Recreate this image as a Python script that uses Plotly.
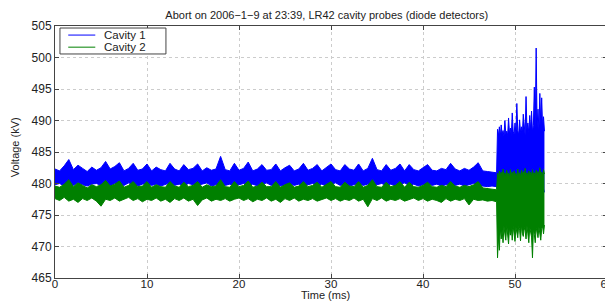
import numpy as np
import plotly.graph_objects as go

# ---- data (kV) ----
# steady part: samples every 0.5 ms from 0 to 48 ms
t_steady = np.round(np.arange(0, 48.01, 0.5), 2)
# burst part: samples every 0.1 ms from 48.1 to 53.3 ms
t_burst = np.round(np.arange(48.1, 53.31, 0.1), 2)

c1_hi_steady = [482.3, 482.0, 482.8, 483.8, 482.2, 482.9, 482.4, 481.9, 482.6, 482.1,
                482.5, 483.5, 482.3, 482.7, 483.3, 482.0, 482.4, 483.2, 482.1, 482.3,
                483.1, 482.0, 482.6, 482.2, 482.0, 483.2, 482.3, 482.0, 483.0, 482.2,
                482.4, 483.1, 482.0, 482.5, 482.1, 482.3, 484.3, 482.2, 482.0, 483.2,
                482.1, 482.4, 483.4, 482.0, 482.3, 483.0, 482.1, 482.2, 483.1, 482.0,
                482.5, 482.9, 482.0, 482.3, 483.2, 482.1, 482.4, 483.0, 482.0, 482.6,
                483.1, 482.2, 482.0, 483.0, 482.3, 482.1, 483.1, 482.0, 482.4, 484.0,
                482.2, 482.0, 483.0, 482.1, 482.4, 483.1, 482.0, 483.0, 482.2, 482.0,
                482.5, 483.0, 482.1, 482.0, 482.4, 482.2, 483.2, 482.3, 482.0, 482.4,
                482.1, 482.6, 483.3, 482.0, 481.9, 481.8, 481.7]
c1_lo_steady = [479.8, 480.0, 479.6, 479.9, 479.7, 480.1, 479.8, 479.6, 479.9, 480.0,
                479.7, 479.9, 479.6, 480.0, 479.8, 479.7, 480.1, 479.8, 479.6, 479.9,
                480.0, 479.7, 479.9, 479.6, 479.8, 480.1, 479.7, 479.9, 479.6, 480.0,
                479.8, 479.7, 479.9, 480.1, 479.6, 479.8, 480.0, 479.7, 479.9, 479.6,
                479.8, 480.0, 479.7, 479.9, 479.6, 479.8, 480.1, 479.7, 479.9, 479.6,
                479.8, 480.0, 479.7, 479.9, 479.6, 479.8, 480.0, 479.7, 479.9, 479.6,
                479.8, 480.1, 479.7, 479.9, 479.6, 479.8, 480.0, 479.7, 479.9, 479.6,
                479.8, 480.0, 479.7, 479.9, 479.6, 479.8, 480.1, 479.7, 479.9, 479.6,
                479.8, 480.0, 479.7, 479.9, 479.6, 479.8, 480.0, 479.7, 479.9, 479.6,
                479.8, 480.0, 479.7, 479.6, 479.5, 479.6, 479.5]
c2_hi_steady = [479.6, 479.4, 479.9, 480.6, 479.5, 480.1, 479.7, 479.3, 479.8, 479.5,
                479.8, 480.5, 479.6, 479.9, 480.4, 479.4, 479.7, 480.3, 479.5, 479.6,
                480.3, 479.4, 479.8, 479.5, 479.4, 480.3, 479.6, 479.4, 480.2, 479.5,
                479.7, 480.3, 479.4, 479.8, 479.5, 479.6, 480.6, 479.5, 479.4, 480.3,
                479.5, 479.7, 480.4, 479.4, 479.6, 480.2, 479.5, 479.5, 480.3, 479.4,
                479.8, 480.1, 479.4, 479.6, 480.3, 479.5, 479.7, 480.2, 479.4, 479.8,
                480.3, 479.5, 479.4, 480.2, 479.6, 479.5, 480.3, 479.4, 479.7, 480.6,
                479.5, 479.4, 480.2, 479.5, 479.7, 480.3, 479.4, 480.2, 479.5, 479.4,
                479.7, 480.2, 479.5, 479.4, 479.7, 479.5, 480.3, 479.6, 479.4, 479.7,
                479.5, 479.8, 480.3, 479.3, 479.2, 479.1, 479.0]
c2_lo_steady = [477.6, 477.3, 477.8, 477.2, 477.5, 477.0, 477.6, 477.3, 477.7, 477.2,
                476.4, 477.5, 477.3, 477.7, 477.2, 477.5, 477.8, 477.3, 477.6, 477.1,
                477.5, 477.3, 477.7, 477.2, 477.5, 477.0, 477.6, 477.3, 477.7, 477.2,
                477.5, 476.5, 477.4, 477.7, 477.2, 477.5, 477.3, 477.6, 477.2, 477.5,
                477.7, 477.3, 477.6, 477.1, 477.5, 477.3, 477.7, 477.2, 477.5, 477.0,
                477.6, 477.3, 477.7, 477.2, 477.5, 477.3, 477.6, 477.2, 477.5, 477.7,
                477.3, 477.6, 477.2, 477.5, 477.3, 477.7, 477.2, 477.5, 476.3, 477.6,
                477.3, 477.7, 477.2, 477.5, 477.3, 477.6, 477.2, 477.5, 477.7, 477.3,
                477.6, 477.2, 477.5, 477.3, 477.0, 477.6, 477.2, 477.5, 477.3, 477.6,
                476.6, 477.5, 477.3, 477.4, 477.2, 477.3, 477.1]

c1_hi_burst = [488.6, 487.6, 489.0, 487.4, 489.3, 487.8, 488.4, 487.5, 490.0, 487.9,
               488.3, 487.6, 490.4, 488.0, 488.8, 487.6, 491.2, 488.3, 487.8, 489.6,
               487.9, 492.7, 488.4, 487.7, 490.1, 488.1, 489.0, 487.8, 491.0, 488.3,
               487.7, 493.8, 488.6, 489.6, 488.0, 490.8, 488.5, 491.5, 488.2, 489.2,
               495.3, 488.7, 501.5, 489.0, 491.8, 488.6, 494.3, 489.5, 493.6, 488.9,
               490.6, 488.3]
c1_lo_burst = [479.0, 478.4, 479.2, 478.6, 479.4, 478.2, 479.0, 478.5, 479.3, 478.3,
               479.1, 478.6, 479.4, 478.2, 479.0, 478.5, 479.3, 478.4, 479.1, 478.6,
               479.4, 478.2, 479.0, 478.5, 479.3, 478.3, 479.1, 478.6, 479.4, 478.2,
               479.0, 478.5, 479.3, 478.4, 479.1, 478.6, 479.4, 478.2, 479.0, 478.5,
               479.3, 478.3, 479.1, 478.6, 479.4, 478.2, 479.0, 478.5, 479.3, 478.4,
               479.1, 478.6]
c2_hi_burst = [481.6, 480.9, 482.0, 481.2, 481.8, 480.8, 482.3, 481.1, 481.7, 481.0,
               482.1, 481.3, 481.6, 480.9, 482.2, 481.2, 481.8, 481.0, 482.0, 481.4,
               481.6, 480.9, 482.3, 481.2, 481.7, 481.0, 482.1, 481.3, 481.9, 481.0,
               482.4, 481.2, 481.7, 481.0, 482.0, 481.3, 481.8, 481.1, 482.2, 481.4,
               481.7, 481.0, 482.1, 481.3, 481.9, 481.1, 482.5, 481.4, 481.8, 481.2,
               482.2, 481.5]
c2_lo_burst = [468.2, 471.5, 469.4, 473.0, 471.2, 472.6, 470.6, 473.2, 472.0, 471.0,
               473.4, 472.2, 470.4, 473.0, 471.8, 472.9, 471.0, 473.3, 472.4, 470.8,
               473.1, 472.0, 471.4, 473.2, 472.6, 470.9, 473.4, 472.1, 471.6, 473.0,
               472.5, 471.2, 473.3, 472.0, 470.6, 473.1, 472.4, 471.5, 468.2, 472.8,
               471.9, 470.6, 473.0, 472.2, 471.4, 473.1, 472.0, 471.0, 472.8, 473.2,
               472.0, 473.4]

title_text = "Abort on 2006\u22121\u22129 at 23:39, LR42 cavity probes (diode detectors)"
x_title = "Time (ms)"
y_title = "Voltage (kV)"
series_names = ["Cavity 1", "Cavity 2"]
series_colors = ["#0000ff", "#008000"]
x_ticks = [0, 10, 20, 30, 40, 50, 60]
y_ticks = [465, 470, 475, 480, 485, 490, 495, 500, 505]

t_all = list(t_steady) + list(t_burst)
lows = [c1_lo_steady + c1_lo_burst, c2_lo_steady + c2_lo_burst]
highs = [c1_hi_steady + c1_hi_burst, c2_hi_steady + c2_hi_burst]

FONT = "Liberation Sans, Arial, sans-serif"
TXT = "#222222"

fig = go.Figure()
for name, color, lo, hi in zip(series_names, series_colors, lows, highs):
    fig.add_trace(go.Scatter(x=t_all, y=lo, mode="lines", name=name, showlegend=False,
                             line=dict(color=color, width=1)))
    fig.add_trace(go.Scatter(x=t_all, y=hi, mode="lines", name=name, showlegend=False,
                             line=dict(color=color, width=1), fill="tonexty",
                             fillcolor=color))

axis_common = dict(showline=True, linecolor="#444444", linewidth=1, mirror="ticks",
                   ticks="inside", ticklen=4, tickcolor="#444444",
                   showgrid=True, gridcolor="#cccccc", griddash="dot", gridwidth=1,
                   zeroline=False, automargin=False)

# MATLAB-style legend box (paper coordinates)
shapes = [dict(type="rect", xref="paper", yref="paper", x0=0.009, x1=0.201,
               y0=0.889, y1=0.992, line=dict(color="#444444", width=1),
               fillcolor="white", layer="above")]
annotations = []
for i, (name, color) in enumerate(zip(series_names, series_colors)):
    yy = 0.964 - i * 0.048
    shapes.append(dict(type="line", xref="paper", yref="paper", x0=0.024, x1=0.073,
                       y0=yy, y1=yy, line=dict(color=color, width=1), layer="above"))
    annotations.append(dict(xref="paper", yref="paper", x=0.086, y=yy, text=name,
                            showarrow=False, xanchor="left", yanchor="middle",
                            font=dict(family=FONT, size=11.5, color=TXT)))

# axis titles
annotations.append(dict(xref="paper", yref="paper", x=0.49, y=-0.066, text=x_title,
                        showarrow=False, xanchor="center", yanchor="middle",
                        font=dict(family=FONT, size=11, color=TXT)))
annotations.append(dict(xref="paper", yref="paper", x=-0.072, y=0.52, text=y_title,
                        showarrow=False, xanchor="center", yanchor="middle", textangle=-90,
                        font=dict(family=FONT, size=11, color=TXT)))

# note: the page body adds an 8 px offset, margins compensate for it
fig.update_layout(
    width=613, height=301,
    margin=dict(l=47, r=14, t=18, b=31, autoexpand=False),
    paper_bgcolor="white", plot_bgcolor="white",
    font=dict(family=FONT, size=11, color=TXT),
    title=dict(text=title_text, x=0.52, xanchor="center", y=0.99, yanchor="top",
               font=dict(family=FONT, size=11, color=TXT)),
    xaxis=dict(range=[0, 60], tickvals=x_ticks, ticktext=[str(v) for v in x_ticks],
               ticklabelstandoff=-5, tickfont=dict(family=FONT, size=11.5, color=TXT),
               **axis_common),
    yaxis=dict(range=[465, 505], tickvals=y_ticks, ticktext=[str(v) for v in y_ticks],
               tickfont=dict(family=FONT, size=12, color=TXT), **axis_common),
    shapes=shapes,
    annotations=annotations,
    showlegend=False,
)

fig.write_html("out.html")
